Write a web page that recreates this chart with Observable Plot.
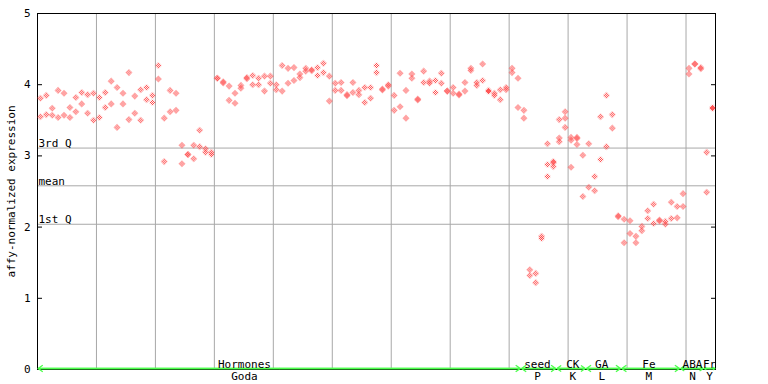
<!DOCTYPE html>
<html><head><meta charset="utf-8">
<script src="https://cdn.jsdelivr.net/npm/d3@7"></script>
<script src="https://cdn.jsdelivr.net/npm/@observablehq/plot@0.6"></script>
<style>body{margin:0;background:#fff}#chart{width:768px;height:384px}</style>
</head><body><div id="chart"></div>
<script>
// replicate values per sample (index 0..114)
const rep1 = [3.81,3.85,3.67,3.92,3.88,3.68,3.82,3.89,3.86,3.88,
  3.82,3.89,4.05,3.96,3.88,4.17,3.84,3.93,3.96,3.85,
  4.27,3.53,3.92,3.88,3.15,3.02,3.15,3.36,3.10,3.05,
  4.09,4.04,3.98,3.88,3.99,4.10,4.13,4.09,4.12,4.12,
  4.00,4.27,4.23,4.24,4.15,4.23,4.21,4.24,4.30,4.12,
  4.02,4.03,3.86,4.03,3.92,3.96,3.96,4.27,3.94,4.00,
  3.85,4.16,3.92,4.15,3.80,4.19,4.05,4.06,4.16,3.91,
  3.96,3.87,4.03,4.23,4.03,4.29,3.92,3.88,3.93,3.96,
  4.23,4.09,3.64,1.40,1.35,1.87,3.17,2.92,3.51,3.62,
  3.26,3.26,3.01,3.17,2.71,3.55,3.85,3.58,2.16,2.11,
  2.09,1.87,2.01,2.23,2.32,2.10,2.08,2.35,2.29,2.47,
  4.23,4.29,4.24,3.05,3.68];
const rep2 = [3.55,3.58,3.57,3.54,3.57,3.54,3.62,3.73,3.60,3.50,
  3.54,3.68,3.73,3.40,3.73,3.51,3.60,3.50,3.79,3.75,
  4.08,2.92,3.62,3.64,2.89,3.02,2.96,3.13,3.05,3.02,
  4.09,4.025,3.78,3.74,3.95,4.085,4.00,4.00,3.91,4.02,
  3.93,3.91,4.02,4.06,4.10,4.19,4.195,4.13,4.17,3.77,
  3.92,3.92,3.845,3.89,3.86,3.75,3.81,4.17,3.925,3.98,
  3.64,3.69,3.53,4.09,3.785,4.03,4.02,3.89,4.02,3.91,
  3.88,3.855,3.91,4.20,3.99,4.06,3.905,3.85,3.79,3.93,
  4.17,3.68,3.53,1.32,1.22,1.84,2.88,2.905,3.25,3.53,
  3.22,3.245,2.43,2.56,2.51,2.95,3.13,3.39,2.145,1.78,
  1.91,1.78,1.95,2.12,2.05,2.085,2.04,2.12,2.13,2.29,
  4.15,4.29,4.225,2.49,3.665];
const rep3Samples = [86, 87, 88, 89, 90, 91];
const rep3Values  = [2.71, 2.85, 3.20, 3.40, 2.84, 3.16];

const groupNames = ["Hormones","seed","CK","GA","Fe","ABA","Fr"];
const groupSubs  = ["Goda","P","K","L","M","N","Y"];
const groupStart = [0, 82, 88, 93, 99, 109, 113];
const groupEnd   = [81, 87, 92, 98, 108, 112, 114];
const groupLabelAt = [34.6, 84.3, 90.3, 95.2, 103.2, 110.6, 113.5];

const quartileNames  = ["3rd Q","mean","1st Q"];
const quartileValues = [3.11, 2.58, 2.04];
const yTicks = [0,1,2,3,4,5];
const gridSamples = [9.5,19.5,29.5,39.5,49.5,59.5,69.5,79.5,89.5,99.5,109.5];

const points = [];
rep1.forEach((v,i)=>points.push({i, v}));
rep2.forEach((v,i)=>points.push({i, v}));
rep3Samples.forEach((s,k)=>points.push({i:s, v:rep3Values[k]}));

const groups = groupNames.map((n,k)=>({name:n, sub:groupSubs[k], a:groupStart[k]-0.4, b:groupEnd[k]+0.4, m:(groupStart[k]+groupEnd[k])/2, at:groupLabelAt[k]}));
const quart = quartileNames.map((n,k)=>({name:n, v:quartileValues[k]}));

const RED = "#ff4848", GREEN = "#4dff4d", GRAY = "#a8a8a8";
const FONT = "DejaVu Sans Mono";

const chart = Plot.plot({
  width: 768, height: 384,
  marginLeft: 37, marginRight: 53, marginTop: 13, marginBottom: 15,
  style: {fontFamily: FONT, fontSize: "11px", background: "#fff", color: "#000"},
  x: {domain: [-0.5, 114.5], axis: null},
  y: {domain: [0, 5]},
  marks: [
    Plot.gridX(gridSamples, {stroke: GRAY, strokeOpacity: 1}),
    Plot.ruleY(quartileValues, {stroke: GRAY}),
    Plot.frame({stroke: "#000"}),
    Plot.axisY(yTicks, {anchor: "left", tickSize: -5, tickFormat: () => "", label: null}),
    Plot.axisY(yTicks, {anchor: "right", tickSize: -5, tickFormat: () => "", label: null}),
    Plot.axisY(yTicks, {anchor: "left", tickSize: 0, tickPadding: 7, fontSize: 11, tickFormat: d3.format("d"),
      label: "affy-normalized expression", labelAnchor: "center", labelOffset: 30, labelArrow: "none"}),
    Plot.text(quart, {x: -0.5, y: "v", text: "name", textAnchor: "start", lineAnchor: "bottom", dx: 1, dy: -1, fill: "#000"}),
    Plot.dot(points, {x: "i", y: "v", symbol: "diamond2", r: 3.2, fill: "url(#chk)", stroke: "none"}),
    Plot.link(groups, {x1: "a", x2: "b", y1: 0, y2: 0, stroke: GREEN, strokeWidth: 1.6, dy: -1}),
    Plot.arrow(groups, {x1: "m", x2: "a", y1: 0, y2: 0, stroke: GREEN, strokeWidth: 1.3, headLength: 6, headAngle: 70, dy: -1}),
    Plot.arrow(groups, {x1: "m", x2: "b", y1: 0, y2: 0, stroke: GREEN, strokeWidth: 1.3, headLength: 6, headAngle: 70, dy: -1}),
    Plot.text(groups, {x: "at", y: 0, text: "name", lineAnchor: "bottom", dy: -2, fill: "#000"}),
    Plot.text(groups, {x: "at", y: 0, text: "sub", lineAnchor: "top", dy: 3, fill: "#000"})
  ]
});
const defs = document.createElementNS("http://www.w3.org/2000/svg", "defs");
defs.innerHTML = '<pattern id="chk" patternUnits="userSpaceOnUse" x="0.5" y="0.5" width="2" height="2">'
  + '<rect width="1" height="1" fill="' + RED + '"/><rect x="1" y="1" width="1" height="1" fill="' + RED + '"/></pattern>';
chart.insertBefore(defs, chart.firstChild);
document.getElementById("chart").appendChild(chart);
</script>
</body></html>
